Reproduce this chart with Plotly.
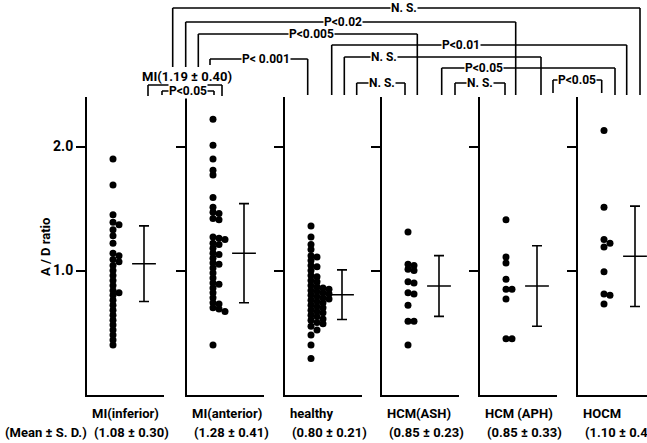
import plotly.graph_objects as go

FIG_W, FIG_H = 647, 443

# ---------------- data ----------------
groups = ["MI(inferior)", "MI(anterior)", "healthy", "HCM(ASH)", "HCM (APH)", "HOCM"]
mean_sd_text = ["(1.08 ± 0.30)", "(1.28 ± 0.41)", "(0.80 ± 0.21)",
                "(0.85 ± 0.23)", "(0.85 ± 0.33)", "(1.10 ± 0.40)"]

mi_inferior = [1.90, 1.69, 1.45, 1.39, 1.37, 1.33, 1.28, 1.22, 1.14, 1.12, 1.09, 1.07,
               1.04, 1.00, 0.96, 0.92, 0.88, 0.84, 0.82, 0.80, 0.76, 0.72, 0.68, 0.64,
               0.60, 0.56, 0.52, 0.48, 0.44, 0.40]
mi_anterior = [2.22, 2.01, 1.90, 1.81, 1.77, 1.59, 1.51, 1.47, 1.46, 1.42, 1.41,
               1.27, 1.26, 1.25, 1.22, 1.21, 1.18, 1.14, 1.13, 1.10, 1.06, 1.05, 1.02,
               0.98, 0.94, 0.90, 0.89, 0.86, 0.82, 0.78, 0.74, 0.73, 0.70, 0.69, 0.67, 0.40]
healthy = [1.36, 1.27, 1.21, 1.17, 1.12, 1.11, 1.08, 1.04, 1.03, 1.00, 0.96, 0.95, 0.92, 0.91,
           0.88, 0.87, 0.86, 0.85, 0.84, 0.83, 0.82, 0.81, 0.80, 0.79, 0.78, 0.77, 0.76, 0.75, 0.74,
           0.72, 0.71, 0.70, 0.68, 0.67, 0.66, 0.64, 0.63, 0.61, 0.60, 0.58, 0.57, 0.55, 0.52,
           0.48, 0.40, 0.29]
hcm_ash = [1.31, 1.05, 1.04, 1.01, 1.00, 0.91, 0.90, 0.82, 0.81, 0.72, 0.59, 0.59, 0.40]
hcm_aph = [1.41, 1.11, 1.06, 0.93, 0.85, 0.85, 0.77, 0.45, 0.45]
hocm = [2.13, 1.51, 1.25, 1.22, 1.19, 0.99, 0.81, 0.80, 0.73]

series = [mi_inferior, mi_anterior, healthy, hcm_ash, hcm_aph, hocm]

# drawn mean bar and S.D. whiskers
bar_mean = [1.055, 1.14, 0.805, 0.875, 0.875, 1.115]
bar_sd = [0.305, 0.40, 0.20, 0.245, 0.325, 0.405]

y_tick_vals = [1.0, 2.0]
y_tick_text = ["1.0", "2.0"]

combined_label = "MI(1.19 ± 0.40)"
mean_sd_header = "(Mean ± S. D.)"
y_title = "A / D ratio"

# ---------------- layout constants (pixels) ----------------
PANEL_LEFT = [87, 187, 285, 382, 480, 578]
PANEL_W = 77
Y_BOTTOM, Y_TOP = 394.5, 97
Y_MAX = 2.4
DOT_X, COL_STEP, BAR_X = 26, 6, 57
FONT = "Roboto, Liberation Sans, sans-serif"


def px(x):
    return x / FIG_W


def py(y):
    return 1 - y / FIG_H


def swarm(vals, thr=0.035):
    last, cols = [], []
    for v in vals:
        k = 0
        while k < len(last) and last[k] - v < thr:
            k += 1
        if k == len(last):
            last.append(v)
        else:
            last[k] = v
        cols.append(k)
    return cols


fig = go.Figure()
layout = dict(
    width=FIG_W, height=FIG_H,
    margin=dict(l=0, r=0, t=0, b=0),
    paper_bgcolor="white", plot_bgcolor="white",
    showlegend=False,
    font=dict(family=FONT, size=13, color="black", weight="bold"),
)

for i, vals in enumerate(series):
    n = i + 1
    xa = "x" if n == 1 else f"x{n}"
    ya = "y" if n == 1 else f"y{n}"
    left = PANEL_LEFT[i]
    right = min(left + PANEL_W, FIG_W)
    width = right - left
    vs = sorted(vals, reverse=True)
    cols = swarm(vs)
    fig.add_trace(go.Scatter(
        x=[DOT_X + COL_STEP * c for c in cols], y=vs, mode="markers",
        marker=dict(size=7, color="black"), xaxis=xa, yaxis=ya, hoverinfo="skip"))
    fig.add_trace(go.Scatter(
        x=[BAR_X], y=[bar_mean[i]], mode="markers",
        marker=dict(symbol="line-ew", size=17, line=dict(width=1.6, color="black")),
        error_y=dict(type="data", array=[bar_sd[i]], thickness=1.6, width=5, color="black"),
        xaxis=xa, yaxis=ya, hoverinfo="skip"))
    xkey = "xaxis" if n == 1 else f"xaxis{n}"
    ykey = "yaxis" if n == 1 else f"yaxis{n}"
    layout[xkey] = dict(domain=[px(left), px(right)], range=[0, width], anchor=ya,
                        showline=True, linecolor="black", linewidth=2,
                        showgrid=False, zeroline=False, showticklabels=False, ticks="")
    layout[ykey] = dict(domain=[py(Y_BOTTOM), py(Y_TOP)], range=[0, Y_MAX], anchor=xa,
                        showline=True, linecolor="black", linewidth=2,
                        showgrid=False, zeroline=False,
                        ticks="outside", ticklen=9, tickwidth=2, tickcolor="black",
                        tickvals=y_tick_vals, ticktext=y_tick_text,
                        showticklabels=(n == 1),
                        tickfont=dict(family=FONT, size=14, color="black", weight="bold"))

annotations = []
shapes = []

# group labels under each panel
for i, g in enumerate(groups):
    left = PANEL_LEFT[i]
    annotations.append(dict(x=px(left + 3), y=py(413), xref="paper", yref="paper",
                            text=g, showarrow=False, xanchor="left", yanchor="middle",
                            font=dict(size=13)))
    annotations.append(dict(x=px(left + 5), y=py(432), xref="paper", yref="paper",
                            text=mean_sd_text[i], showarrow=False, xanchor="left",
                            yanchor="middle", font=dict(size=13)))
annotations.append(dict(x=px(3), y=py(432), xref="paper", yref="paper",
                        text=mean_sd_header, showarrow=False, xanchor="left",
                        yanchor="middle", font=dict(size=13)))
annotations.append(dict(x=px(45), y=py(247), xref="paper", yref="paper",
                        text=y_title, showarrow=False, textangle=-90,
                        xanchor="center", yanchor="middle", font=dict(size=13)))
annotations.append(dict(x=px(187), y=py(76), xref="paper", yref="paper",
                        text=combined_label, showarrow=False,
                        xanchor="center", yanchor="middle", font=dict(size=13)))

# significance brackets: left x, right x, bar y, left foot y, right foot y, label, label x
brackets = [
    (172.7, 640.0, 8, 67, 95, "N. S.", 404),
    (185.7, 515.7, 22, 67, 95, "P<0.02", 343),
    (198.3, 417.3, 34, 67, 95, "P<0.005", 311),
    (331.7, 626.7, 45, 95, 95, "P<0.01", 461),
    (210.0, 307.7, 59, 65, 95, "P< 0.001", 266),
    (344.3, 541.0, 57, 95, 95, "N. S.", 384),
    (441.7, 615.0, 68, 95, 95, "P<0.05", 484),
    (356.7, 405.0, 83, 95, 95, "N. S.", 382),
    (455.0, 505.0, 83, 95, 95, "N. S.", 480),
    (553.0, 601.7, 80, 93, 93, "P<0.05", 577),
    (148.0, 222.0, 85, 96, 96, "", 0),
    (162.0, 214.0, 91, 95, 95, "P<0.05", 188),
]
line_style = dict(color="black", width=1.6)
for xl, xr, yb, yfl, yfr, lab, lx in brackets:
    shapes.append(dict(type="line", xref="paper", yref="paper",
                       x0=px(xl), x1=px(xr), y0=py(yb), y1=py(yb), line=line_style))
    shapes.append(dict(type="line", xref="paper", yref="paper",
                       x0=px(xl), x1=px(xl), y0=py(yb), y1=py(yfl), line=line_style))
    shapes.append(dict(type="line", xref="paper", yref="paper",
                       x0=px(xr), x1=px(xr), y0=py(yb), y1=py(yfr), line=line_style))
    if lab:
        annotations.append(dict(x=px(lx), y=py(yb), xref="paper", yref="paper",
                                text=lab, showarrow=False, xanchor="center",
                                yanchor="middle", bgcolor="white", borderpad=0,
                                font=dict(size=12)))

layout["annotations"] = annotations
layout["shapes"] = shapes
fig.update_layout(**layout)
fig.write_html("out.html",
               config={"displayModeBar": False},
               post_script="document.body.style.margin='0';document.body.style.overflow='hidden';")
